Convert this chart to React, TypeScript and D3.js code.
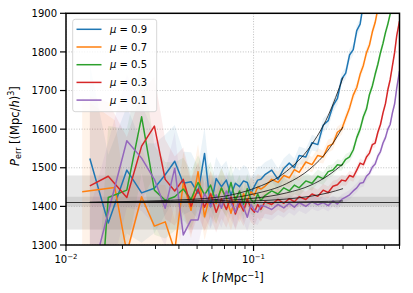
import React from "react";
import * as d3 from "d3";

// k bins (h/Mpc), shared by all mu bins
const kBins = [
  0.0122, 0.0134, 0.0168, 0.0182, 0.0211, 0.0253, 0.0296, 0.0338, 0.038, 0.0422,
  0.0464, 0.0506, 0.0548, 0.059, 0.0632, 0.0674, 0.0716, 0.0758, 0.08, 0.0842,
  0.0884, 0.0926, 0.0968, 0.101, 0.1052, 0.1094,
  0.115, 0.125, 0.135, 0.145, 0.155, 0.165, 0.175, 0.19, 0.205, 0.22,
  0.235, 0.25, 0.265, 0.28, 0.295, 0.31, 0.325, 0.34, 0.355, 0.37,
  0.385, 0.4, 0.415, 0.43, 0.445, 0.46, 0.475, 0.49, 0.505, 0.52,
  0.535, 0.55, 0.565, 0.58, 0.6,
];

const pMu09 = [
  null, 1524, 1357, null, 1494, 1435, 1447, 1482, 1517, 1460,
  1464, 1434, 1537, 1399, 1472, 1451, 1468, 1429, 1460, 1451,
  1466, 1462, 1434, 1452, 1468, 1470,
  1482, 1494, 1470, 1498, 1512, 1500, 1532, 1528, 1565, 1560,
  1610, 1622, 1660, 1680, 1730, 1745, 1792, 1806, 1855, 1872,
  1925, 1960, 2000, null, null, null, null, null, null, null,
  null, null, null, null, null,
];
const pMu07 = [
  1438, null, null, 1449, 1280, 1425, 1349, 1360, 1285, 1460,
  1390, 1490, 1373, 1434, 1407, 1446, 1421, 1382, 1425, 1398,
  1433, 1412, 1438, 1429, 1450, 1445,
  1452, 1470, 1462, 1480, 1474, 1495, 1488, 1515, 1508, 1532,
  1528, 1556, 1562, 1592, 1600, 1628, 1655, 1688, 1708, 1742,
  1765, 1798, 1818, 1852, 1876, 1912, 1945, null, null, null,
  null, null, null, null, null,
];
const pMu05 = [
  null, 750, 1423, null, 1442, 1632, 1442, 1416, 1425, 1445,
  1418, 1462, 1430, 1455, 1410, 1448, 1420, 1462, 1415, 1440,
  1405, 1446, 1418, 1408, 1432, 1415,
  1428, 1440, 1432, 1448, 1440, 1455, 1448, 1466, 1460, 1478,
  1472, 1490, 1494, 1508, 1506, 1522, 1528, 1546, 1578, 1600,
  1632, 1652, 1690, 1712, 1742, 1768, 1798, 1822, 1850, 1872,
  1898, 1925, 1958, null, null,
];
const pMu03 = [
  null, 1453, 1478, null, 1423, 1556, 1608, 1470, 1440, 1470,
  1400, 1445, 1398, 1432, 1385, 1420, 1392, 1425, 1380, 1410,
  1388, 1418, 1395, 1385, 1405, 1392,
  1412, 1405, 1418, 1408, 1420, 1412, 1425, 1418, 1432, 1426,
  1442, 1436, 1452, 1456, 1468, 1466, 1480, 1476, 1494, 1512,
  1508, 1528, 1538, 1560, 1564, 1592, 1612, 1642, 1666, 1702,
  1728, 1764, 1798, 1842, 1880,
];
const pMu01 = [
  null, 1200, null, null, 1570, 1525, 1470, 1395, 1499, 1326,
  1365, 1365, 1434, 1400, 1430, 1395, 1440, 1410, 1385, 1420,
  1398, 1372, 1405, 1390, 1385, 1402,
  1400, 1392, 1405, 1396, 1408, 1398, 1410, 1400, 1412, 1404,
  1410, 1402, 1414, 1406, 1418, 1424, 1430, 1440, 1448, 1460,
  1462, 1478, 1486, 1502, 1510, 1530, 1542, 1564, 1578, 1600,
  1612, 1642, 1665, 1706, 1750,
];

// relative 1-sigma error per k bin
const sigmaRel = [
  0.17, 0.16, 0.13, 0.12, 0.11, 0.09, 0.08, 0.07, 0.062, 0.056,
  0.052, 0.048, 0.044, 0.041, 0.038, 0.036, 0.034, 0.032, 0.03, 0.029,
  0.028, 0.027, 0.026, 0.025, 0.024, 0.023,
  0.022, 0.02, 0.019, 0.018, 0.017, 0.016, 0.015, 0.014, 0.013, 0.012,
  0.011, 0.011, 0.01, 0.0095, 0.009, 0.0088, 0.0085, 0.0082, 0.008, 0.0078,
  0.0076, 0.0074, 0.0072, 0.007, 0.0068, 0.0066, 0.0064, 0.0062, 0.006, 0.0058,
  0.0056, 0.0055, 0.0054, 0.0053, 0.0052,
];

// model fits
const fitK = [0.0134, 0.05, 0.1, 0.15, 0.2, 0.25, 0.3];
const fitMu09 = [1411, 1419, 1446, 1491, 1554, 1635, 1734];
const fitMu07 = [1410, 1415, 1432, 1459, 1497, 1546, 1606];
const fitMu05 = [1410, 1413, 1421, 1435, 1454, 1480, 1510];
const fitMu03 = [1410, 1411, 1414, 1419, 1426, 1435, 1446];
const fitMu01 = [1410, 1410, 1410, 1411, 1412, 1413, 1414];

const muLabels = ["0.9", "0.7", "0.5", "0.3", "0.1"];
const colors = ["#1f77b4", "#ff7f0e", "#2ca02c", "#d62728", "#9467bd"];
const series = [pMu09, pMu07, pMu05, pMu03, pMu01];
const fits = [fitMu09, fitMu07, fitMu05, fitMu03, fitMu01];

const shotNoise = 1410;
const innerBand = [1400, 1425];
const outerBand = [1340, 1480];
const yTicks = [1300, 1400, 1500, 1600, 1700, 1800, 1900];

export default function App() {
  const W = 413, H = 293;
  const left = 66, right = 399.5, top = 13.3, bottom = 245;
  const font = "DejaVu Sans, sans-serif";

  const x = d3.scaleLog().domain([0.01, 0.6]).range([left, right]);
  const y = d3.scaleLinear().domain([1300, 1900]).range([bottom, top]);

  const pts = (vals: (number | null)[]) =>
    kBins.map((k, i) => ({ k, p: vals[i], s: sigmaRel[i] })).filter((d) => d.p != null) as { k: number; p: number; s: number }[];

  const line = d3.line<{ k: number; p: number }>().x((d) => x(d.k)).y((d) => y(d.p));
  const area = d3.area<{ k: number; p: number; s: number }>()
    .x((d) => x(d.k))
    .y0((d) => y(d.p * (1 - d.s)))
    .y1((d) => y(d.p * (1 + d.s)));
  const fitLine = d3.line<number>().x((_, i) => x(fitK[i])).y((d) => y(d)).curve(d3.curveMonotoneX);

  const xTicks = x.ticks();
  const isMajor = (t: number) => Math.abs(Math.log10(t) - Math.round(Math.log10(t))) < 1e-6;

  return (
    <svg width={W} height={H} style={{ position: "absolute", left: 0, top: 0, background: "#fff" }} fontFamily={font}>
      <defs>
        <clipPath id="plot">
          <rect x={left} y={top} width={right - left} height={bottom - top} />
        </clipPath>
      </defs>

      <g clipPath="url(#plot)">
        <rect x={left} y={y(outerBand[1])} width={right - left} height={y(outerBand[0]) - y(outerBand[1])} fill="#808080" fillOpacity={0.2} />
        <rect x={left} y={y(innerBand[1])} width={right - left} height={y(innerBand[0]) - y(innerBand[1])} fill="#808080" fillOpacity={0.2} />

        {yTicks.map((t) => (
          <line key={"gy" + t} x1={left} x2={right} y1={y(t)} y2={y(t)} stroke="#b0b0b0" strokeWidth={0.8} strokeDasharray="1,1.6" />
        ))}
        {xTicks.filter(isMajor).map((t) => (
          <line key={"gx" + t} x1={x(t)} x2={x(t)} y1={top} y2={bottom} stroke="#b0b0b0" strokeWidth={0.8} strokeDasharray="1,1.6" />
        ))}

        {series.map((s, i) => (
          <path key={"b" + i} d={area(pts(s)) || ""} fill={colors[i]} fillOpacity={0.09} />
        ))}
        {series.map((s, i) => (
          <path key={"l" + i} d={line(pts(s)) || ""} fill="none" stroke={colors[i]} strokeWidth={1.5} strokeLinejoin="round" />
        ))}

        <line x1={left} x2={right} y1={y(shotNoise)} y2={y(shotNoise)} stroke="#333" strokeWidth={1.1} />
        {fits.map((f, i) => (
          <path key={"f" + i} d={fitLine(f) || ""} fill="none" stroke="#111" strokeWidth={0.8} />
        ))}
      </g>

      {/* spines */}
      <rect x={left} y={top} width={right - left} height={bottom - top} fill="none" stroke="#000" strokeWidth={1.5} />

      {/* y axis */}
      {yTicks.map((t) => (
        <g key={"yt" + t}>
          <line x1={left - 6} x2={left} y1={y(t)} y2={y(t)} stroke="#000" strokeWidth={1.2} />
          <text x={left - 9} y={y(t) + 3.6} fontSize={10} textAnchor="end" fill="#000">{t}</text>
        </g>
      ))}

      {/* x axis */}
      {xTicks.map((t) => (
        <line key={"xt" + t} x1={x(t)} x2={x(t)} y1={bottom} y2={bottom + (isMajor(t) ? 6 : 4)} stroke="#000" strokeWidth={isMajor(t) ? 1.2 : 0.9} />
      ))}
      {xTicks.filter(isMajor).map((t) => (
        <text key={"xl" + t} x={x(t)} y={263} fontSize={10} textAnchor="middle" fill="#000">
          10<tspan fontSize={7} dy={-4}>{"\u2212" + Math.round(-Math.log10(t))}</tspan>
        </text>
      ))}

      <text x={(left + right) / 2} y={282} fontSize={11.5} textAnchor="middle" fill="#000">
        <tspan fontStyle="italic">k</tspan> [<tspan fontStyle="italic">h</tspan>Mpc<tspan fontSize={8} dy={-4.5}>{"\u22121"}</tspan><tspan dy={4.5}>]</tspan>
      </text>

      <text transform={`translate(18.5,126) rotate(-90)`} fontSize={11.5} textAnchor="middle" fill="#000">
        <tspan fontStyle="italic">P</tspan><tspan fontSize={8} dy={2.5}>err</tspan><tspan dy={-2.5}> [(Mpc/</tspan><tspan fontStyle="italic">h</tspan>)<tspan fontSize={8} dy={-4.5}>3</tspan><tspan dy={4.5}>]</tspan>
      </text>

      {/* legend */}
      <g>
        <rect x={72.7} y={19.3} width={84} height={92.4} rx={2.5} fill="#fff" fillOpacity={0.8} stroke="#cccccc" strokeWidth={0.8} />
        {muLabels.map((m, i) => (
          <g key={"lg" + i} transform={`translate(0,${29.3 + i * 17.7})`}>
            <line x1={76.5} x2={101.5} y1={0} y2={0} stroke={colors[i]} strokeWidth={1.5} />
            <text x={110} y={3.6} fontSize={10} fill="#000">
              <tspan fontStyle="italic">{"\u03bc"}</tspan>{" = " + m}
            </text>
          </g>
        ))}
      </g>
    </svg>
  );
}
